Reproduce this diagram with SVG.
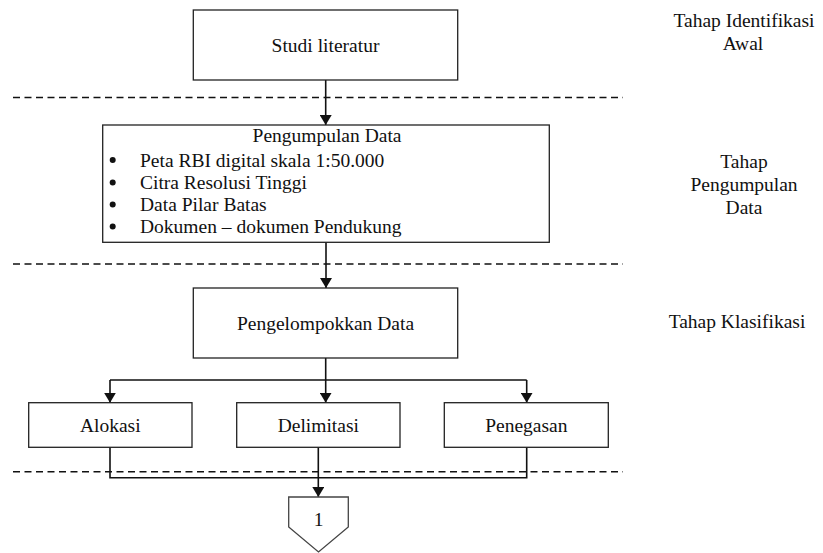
<svg xmlns="http://www.w3.org/2000/svg" width="823" height="553" viewBox="0 0 823 553">
<style>
.box{fill:#fff;stroke:#222;stroke-width:1.3}
.t{font-family:"Liberation Serif","Times New Roman",serif;font-size:19.5px;fill:#111}
.c{text-anchor:middle}
.ln{fill:none;stroke:#111;stroke-width:1.6}
.dash{fill:none;stroke:#111;stroke-width:1.5;stroke-dasharray:7 4.5}
</style>
<defs>
<marker id="ah" markerUnits="userSpaceOnUse" markerWidth="12" markerHeight="12" refX="10" refY="6" orient="auto">
<path d="M0,0 L10,6 L0,12 Z" fill="#111"/>
</marker>
</defs>
<g id="separators">
<line class="dash" x1="13" y1="97.5" x2="623" y2="97.5"/>
<line class="dash" x1="13" y1="264" x2="623" y2="264"/>
<line class="dash" x1="13" y1="471.7" x2="623" y2="471.7"/>
</g>
<g id="connectors">
<line class="ln" x1="325.7" y1="80" x2="325.7" y2="125" marker-end="url(#ah)"/>
<line class="ln" x1="326" y1="242" x2="326" y2="288" marker-end="url(#ah)"/>
<polyline class="ln" points="325.7,358 325.7,380"/>
<polyline class="ln" points="110,380 526.7,380"/>
<line class="ln" x1="110" y1="380" x2="110" y2="402.7" marker-end="url(#ah)"/>
<line class="ln" x1="325.7" y1="380" x2="325.7" y2="402.7" marker-end="url(#ah)"/>
<line class="ln" x1="526.7" y1="380" x2="526.7" y2="402.7" marker-end="url(#ah)"/>
<polyline class="ln" points="110,447.3 110,477.7 526.7,477.7 526.7,447.3"/>
<line class="ln" x1="318.3" y1="447.3" x2="318.3" y2="497" marker-end="url(#ah)"/>
</g>
<g id="studi">
<rect class="box" x="193.3" y="10" width="264.4" height="70"/>
<text class="t c" x="325.5" y="51.7">Studi literatur</text>
</g>
<g id="pengumpulan">
<rect class="box" x="102.7" y="125" width="446.6" height="117.3"/>
<text class="t c" x="327" y="142">Pengumpulan Data</text>
<circle cx="112.7" cy="160" r="3" fill="#111"/>
<circle cx="112.7" cy="182.5" r="3" fill="#111"/>
<circle cx="112.7" cy="204.5" r="3" fill="#111"/>
<circle cx="112.7" cy="226.5" r="3" fill="#111"/>
<text class="t" x="140" y="166.5">Peta RBI digital skala 1:50.000</text>
<text class="t" x="140" y="189">Citra Resolusi Tinggi</text>
<text class="t" x="140" y="211">Data Pilar Batas</text>
<text class="t" x="140" y="233">Dokumen – dokumen Pendukung</text>
</g>
<g id="pengelompokkan">
<rect class="box" x="193.3" y="288" width="264.4" height="70"/>
<text class="t c" x="325.5" y="330">Pengelompokkan Data</text>
</g>
<g id="alokasi">
<rect class="box" x="28.7" y="402.7" width="163.3" height="44.6"/>
<text class="t c" x="110.3" y="431.7">Alokasi</text>
</g>
<g id="delimitasi">
<rect class="box" x="236.7" y="402.7" width="163.3" height="44.6"/>
<text class="t c" x="318.3" y="431.7">Delimitasi</text>
</g>
<g id="penegasan">
<rect class="box" x="444.3" y="402.7" width="164" height="44.6"/>
<text class="t c" x="526.3" y="431.7">Penegasan</text>
</g>
<g id="offpage">
<polygon points="288.7,497 348.3,497 348.3,527 318.5,552 288.7,527" fill="#fff" stroke="#444" stroke-width="1.3"/>
<text class="t c" x="318.5" y="525.7">1</text>
</g>
<g id="labels">
<text class="t c" x="744" y="26.7">Tahap Identifikasi</text>
<text class="t c" x="743" y="50">Awal</text>
<text class="t c" x="744" y="168">Tahap</text>
<text class="t c" x="744" y="191">Pengumpulan</text>
<text class="t c" x="744" y="214">Data</text>
<text class="t c" x="737" y="328">Tahap Klasifikasi</text>
</g>
</svg>
